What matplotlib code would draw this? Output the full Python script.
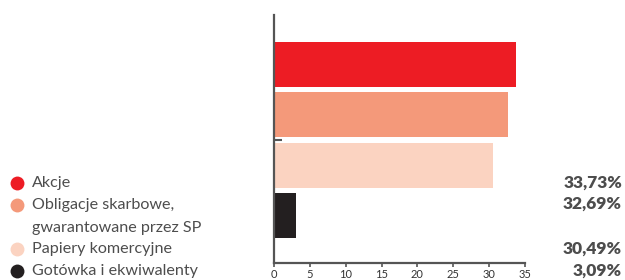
import matplotlib
matplotlib.use("Agg")
import matplotlib.pyplot as plt
from matplotlib.lines import Line2D

categories = ["Akcje", "Obligacje skarbowe,\ngwarantowane przez SP", "Papiery komercyjne", "Gotówka i ekwiwalenty"]
values = [33.73, 32.69, 30.49, 3.09]
labels = ["33,73%", "32,69%", "30,49%", "3,09%"]
colors = ["#ED1C24", "#F4997A", "#FBD3C1", "#231F20"]
xticks = [0, 5, 10, 15, 20, 25, 30, 35]

plt.rcParams['font.family'] = ['Lato', 'DejaVu Sans']
fig = plt.figure(figsize=(6.25, 2.8), dpi=100)
W, H = 625, 280
ax = fig.add_axes([274 / W, (280 - 263) / H, (525 - 274) / W, (263 - 15) / H])

ypos = list(range(len(values)))
ax.barh(ypos, values, height=0.9, color=colors, left=0)
ax.set_xlim(0, 35)
ax.set_ylim(3.95, -0.99)
ax.set_xticks(xticks)
ax.set_xticklabels([str(t) for t in xticks], fontsize=8, color="#333333")
ax.set_yticks([1.5])
ax.set_yticklabels([""])
ax.tick_params(axis='y', direction='in', length=6, width=1.5, color="#555555")
ax.tick_params(axis='x', direction='out', length=3, width=1.2, color="#555555", pad=1.5)
for s in ["top", "right"]:
    ax.spines[s].set_visible(False)
for s in ["left", "bottom"]:
    ax.spines[s].set_color("#555555")
    ax.spines[s].set_linewidth(1.6)

gray = "#4d4d4d"
text_y = [183, 205, 249, 271]
pct_y = [183, 204, 249, 271]
line_gap = 23
for i, cat in enumerate(categories):
    yy = 1 - text_y[i] / H
    fig.add_artist(Line2D([17 / W], [yy], marker='o', markersize=10, color=colors[i],
                          markeredgewidth=0, transform=fig.transFigure))
    for j, line in enumerate(cat.split("\n")):
        fig.text(32 / W, 1 - (text_y[i] + j * line_gap) / H, line, fontsize=11.6,
                 color=gray, va='center', ha='left')
    fig.text(622 / W, 1 - pct_y[i] / H, labels[i], fontsize=12.5, fontweight='heavy',
             color=gray, ha='right', va='center')

fig.savefig("out.png", dpi=100)
